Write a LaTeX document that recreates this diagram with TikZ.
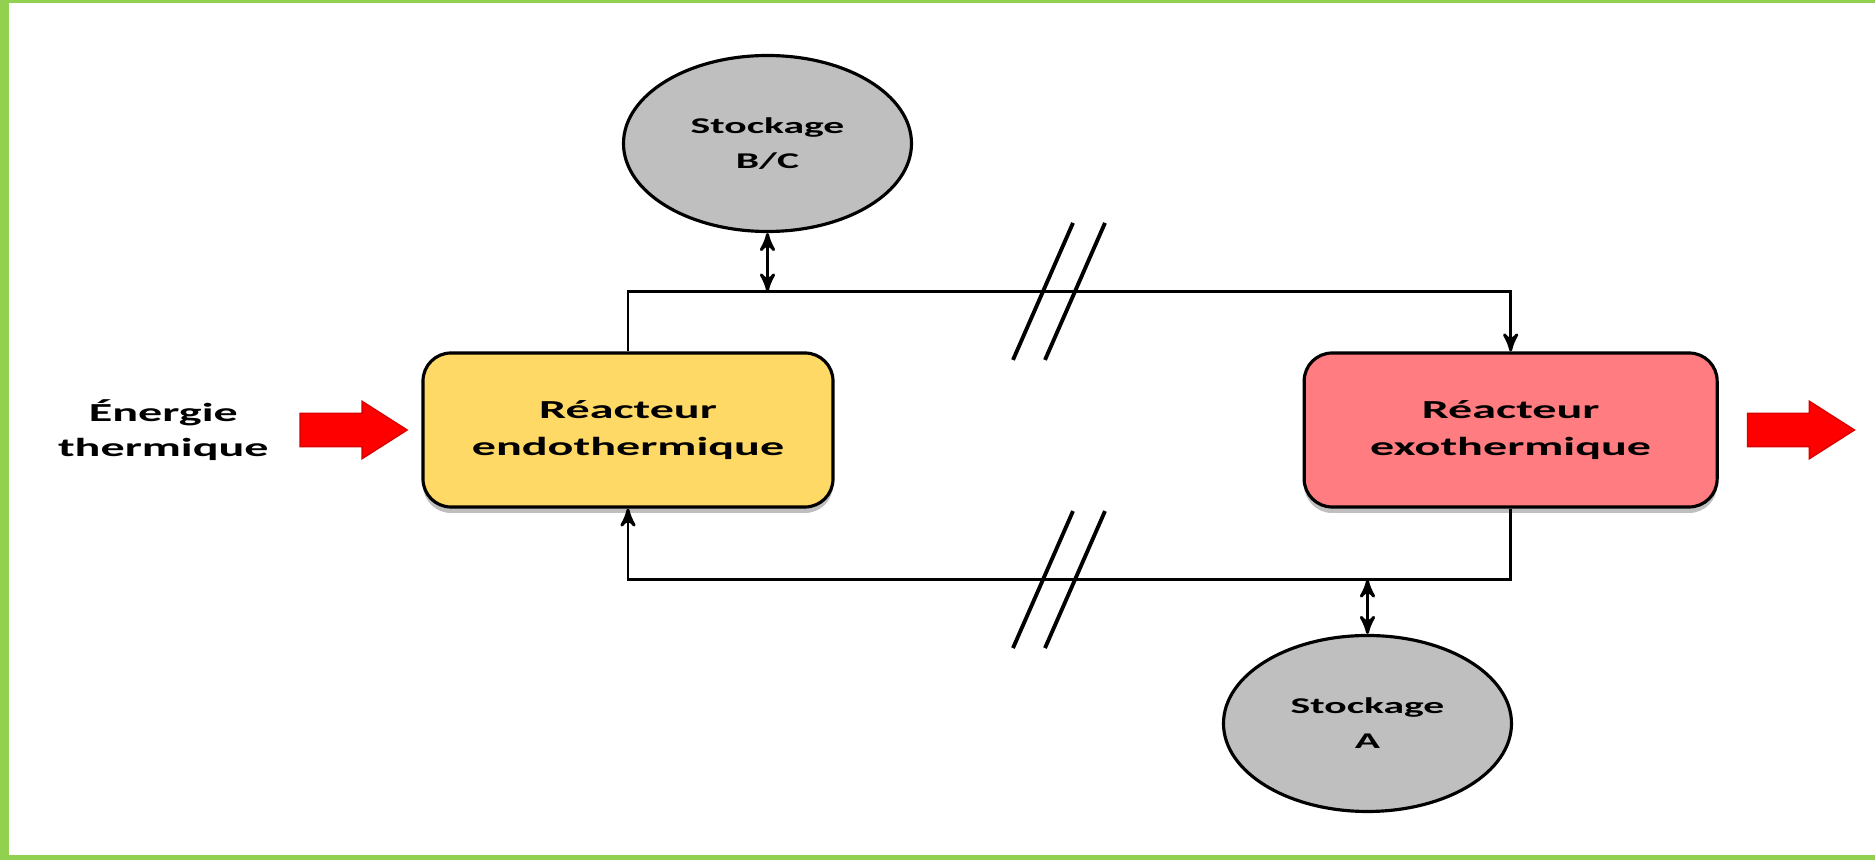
\documentclass[tikz,border=0pt]{standalone}
\usepackage{fontspec}
\setmainfont{Carlito}[FakeStretch=1.85]
\usetikzlibrary{arrows,shapes,shadows,positioning}
\definecolor{framegreen}{HTML}{92D050}
\definecolor{endofill}{HTML}{FFD966}
\definecolor{exofill}{HTML}{FF7C80}
\definecolor{stockfill}{HTML}{BFBFBF}
\tikzset{
    reactor/.style={
        rectangle,
        rounded corners=0.28cm,
        draw=black,
        line width=0.9pt,
        minimum width=4.1cm,
        minimum height=1.54cm,
        align=center,
        font=\bfseries\fontsize{7.4}{10.5}\selectfont,
        drop shadow={shadow xshift=0pt,shadow yshift=-0.06cm,opacity=0.5},
    },
    storage/.style={
        ellipse,
        draw=black,
        line width=0.9pt,
        fill=stockfill,
        minimum width=2.88cm,
        minimum height=1.76cm,
        inner sep=0pt,
        align=center,
        font=\bfseries\fontsize{6.4}{10}\selectfont,
    },
    heatarrow/.style={
        single arrow,
        fill=red,
        draw=red!85!black,
        line width=0.4pt,
        minimum height=1.07cm,
        minimum width=0.56cm,
        inner xsep=0pt,
        inner ysep=0.16cm,
        single arrow head extend=0.12cm,
        single arrow tip angle=65,
    },
    heatlabel/.style={
        align=center,
        inner sep=0pt,
        font=\bfseries\fontsize{7.4}{10}\selectfont,
    },
    flow/.style={
        line width=0.85pt,
    },
    cutmark/.style={
        line width=1.1pt,
    }
}

\begin{document}
\begin{tikzpicture}[node distance=0.5cm and 1cm,>=stealth']
    \useasboundingbox (0,0) rectangle (18.75,8.6);
    % green frame
    \fill[framegreen] (0,0) rectangle (0.09,8.6);
    \fill[framegreen] (0,8.57) rectangle (18.75,8.6);
    \fill[framegreen] (0,0) rectangle (18.75,0.05);

    \node [reactor,fill=endofill] (endo) at (6.28,4.30) {Réacteur\\endothermique};
    \node [reactor,fill=exofill,minimum width=4.13cm] (exo) [right=4.68cm of endo] {Réacteur\\exothermique};
    \node [heatarrow] (heatin) [left=0.13cm of endo] {};
    \node [heatlabel] (energy) [left=0.30cm of heatin] {Énergie\\thermique};
    \node [heatarrow] (heatout) [right=0.28cm of exo] {};
    \node [storage] (stockBC) at (7.675,7.165) {Stockage\\B/C};
    \node [storage] (stockA) at (13.675,1.365) {Stockage\\A};

    \coordinate (topbus) at ([yshift=0.60cm]endo.north);
    \coordinate (botbus) at ([yshift=-0.71cm]exo.south);
    \draw [flow,->] (endo.north) -- (topbus) -| (exo.north);
    \draw [flow,->] (exo.south) -- (botbus) -| (endo.south);
    \draw [flow,<->] (stockBC.south) -- (stockBC.south |- topbus);
    \draw [flow,<->] (stockA.north) -- (stockA.north |- botbus);

    % cut marks on both lines
    \foreach \bus in {topbus,botbus} {
        \path (\bus -| endo.north) ++(4.31,0) coordinate (cut);
        \draw [cutmark] ([shift={(-0.46,-0.685)}]cut) -- ++(0.60,1.37);
        \draw [cutmark] ([shift={(-0.14,-0.685)}]cut) -- ++(0.60,1.37);
    }
\end{tikzpicture}
\end{document}
